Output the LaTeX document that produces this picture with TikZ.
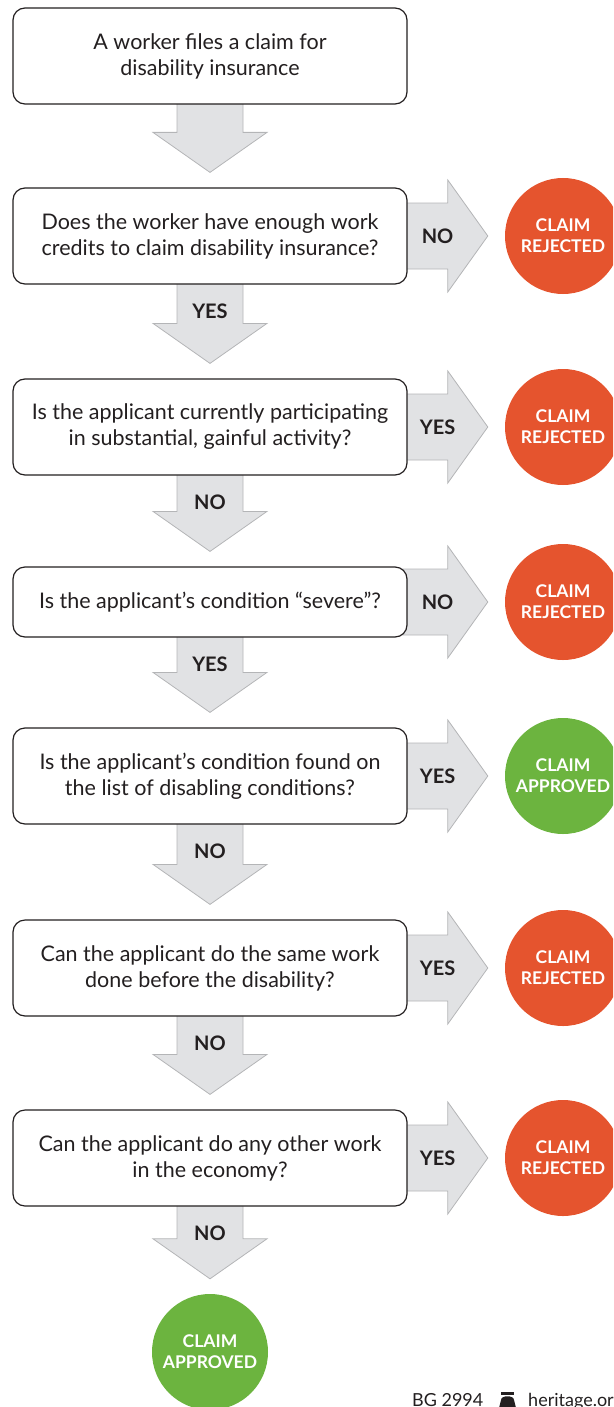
\documentclass[tikz,border=0pt]{standalone}
\usepackage{fontspec}
\setmainfont{Lato}
\usetikzlibrary{calc,backgrounds}
\definecolor{boxline}{HTML}{231F20}
\definecolor{arrowfill}{HTML}{E1E2E4}
\definecolor{arrowline}{HTML}{B4B5B7}
\definecolor{rejcol}{HTML}{E5542E}
\definecolor{appcol}{HTML}{6CB43F}
\tikzset{
  qbox/.style={draw=boxline, line width=1.2pt, rounded corners=12pt, fill=white,
    minimum width=394pt, minimum height=96pt, align=center, inner sep=0pt,
    text=boxline, font=\fontsize{21.5}{26}\selectfont},
  blk/.style={fill=arrowfill, draw=arrowline, line width=0.8pt},
  lbl/.style={font=\bfseries\fontsize{20}{24}\selectfont, text=boxline},
  endc/.style={circle, minimum size=116pt, inner sep=0pt, text=white, align=center,
    font=\bfseries\fontsize{17.5}{21}\selectfont},
  rej/.style={endc, fill=rejcol},
  app/.style={endc, fill=appcol},
  foot/.style={font=\fontsize{18}{20}\selectfont, text=boxline, inner sep=0pt, anchor=base west}
}
\newcommand\dnarr[3]{%
  \begin{pgfonlayer}{background}
  \path[blk] let \p1=(#1.south), \p2=(#2.north) in
    (\x1-33pt,\y1+3pt) -- (\x1-33pt,\y2+55pt) -- (\x1-57pt,\y2+55pt) -- (\x1,\y2+15pt)
    -- (\x1+57pt,\y2+55pt) -- (\x1+33pt,\y2+55pt) -- (\x1+33pt,\y1+3pt) -- cycle;
  \end{pgfonlayer}
  \node[lbl] at ($(#1.south)+(0,27)$) {#3};
}
\newcommand\rtarr[3]{%
  \begin{pgfonlayer}{background}
  \path[blk] let \p1=(#1.east), \p2=(#2.west) in
    (\x1-5pt,\y1+33pt) -- (\x2-57pt,\y1+33pt) -- (\x2-57pt,\y1+56pt) -- (\x2-17pt,\y1)
    -- (\x2-57pt,\y1-56pt) -- (\x2-57pt,\y1-33pt) -- (\x1-5pt,\y1-33pt) -- cycle;
  \end{pgfonlayer}
  \node[lbl] at ($(#1.east)+(30,0)$) {#3};
}
\begin{document}
\begin{tikzpicture}[x=1pt,y=-1pt]
\clip (0,0) rectangle (613,1407);
% boxes
\node[qbox] (b1) at (210,56) {A worker files a claim for\\disability insurance};
\node[qbox] (b2) at (210,236) {Does the worker have enough work\\credits to claim disability insurance?};
\node[qbox] (b3) at (210,427) {Is the applicant currently participating\\in substantial, gainful activity?};
\node[qbox, minimum height=70pt] (b4) at (210,602) {Is the applicant’s condition “severe”?};
\node[qbox] (b5) at (210,776) {Is the applicant’s condition found on\\the list of disabling conditions?};
\node[qbox] (b6) at (210,968) {Can the applicant do the same work\\done before the disability?};
\node[qbox] (b7) at (210,1158) {Can the applicant do any other work\\in the economy?};
% outcomes
\node[rej] (c2) at (563,236) {CLAIM\\REJECTED};
\node[rej] (c3) at (563,427) {CLAIM\\REJECTED};
\node[rej] (c4) at (563,602) {CLAIM\\REJECTED};
\node[app] (c5) at (563,776) {CLAIM\\APPROVED};
\node[rej] (c6) at (563,968) {CLAIM\\REJECTED};
\node[rej] (c7) at (563,1158) {CLAIM\\REJECTED};
\node[app] (c8) at (210,1352) {CLAIM\\APPROVED};
% down arrows
\dnarr{b1}{b2}{}
\dnarr{b2}{b3}{YES}
\dnarr{b3}{b4}{NO}
\dnarr{b4}{b5}{YES}
\dnarr{b5}{b6}{NO}
\dnarr{b6}{b7}{NO}
\dnarr{b7}{c8}{NO}
% right arrows
\rtarr{b2}{c2}{NO}
\rtarr{b3}{c3}{YES}
\rtarr{b4}{c4}{NO}
\rtarr{b5}{c5}{YES}
\rtarr{b6}{c6}{YES}
\rtarr{b7}{c7}{YES}
% footer
\node[foot] (f1) at (412,1406) {BG 2994};
\fill[boxline] (501,1392) rectangle (514,1394.5);
\fill[boxline] (499,1408) -- (501,1400) .. controls (501,1395) and (514,1395) .. (514,1400) -- (516,1408) -- cycle;
\node[foot] (f2) at (528,1406) {heritage.org};
\end{tikzpicture}
\end{document}
